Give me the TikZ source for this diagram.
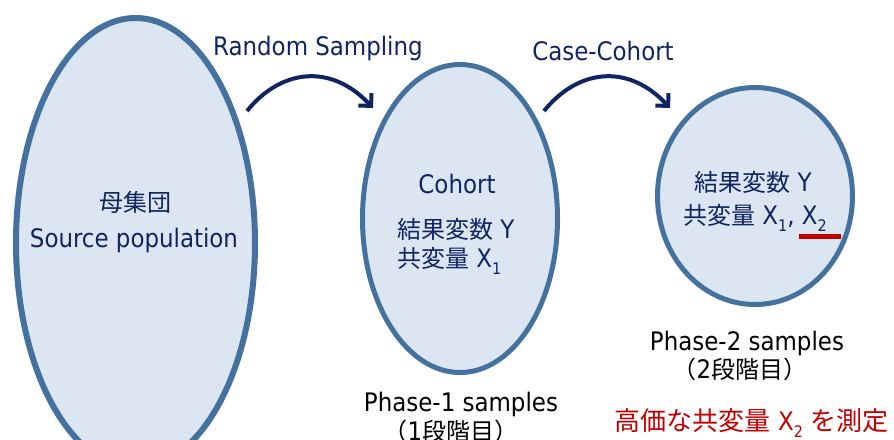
\documentclass[tikz,border=0pt]{standalone}
\usepackage{fontspec}
\setmainfont{DejaVu Sans Condensed}
\newfontfamily\cjk{Noto Sans CJK JP}
\usetikzlibrary{shapes.geometric,arrows.meta}
\definecolor{fillblue}{HTML}{DCE6F2}
\definecolor{edgeblue}{HTML}{44719E}
\definecolor{navy}{HTML}{0F2461}
\definecolor{redtxt}{HTML}{C00000}
\newcommand\lowsub[1]{\raisebox{-0.28em}{\fontsize{16}{16}\selectfont #1}}
\tikzset{
  blob/.style={ellipse, draw=edgeblue, fill=fillblue, line width=5pt, inner sep=0pt},
  lbl/.style={text=navy, font=\fontsize{25.5}{30}\selectfont, inner sep=0pt, anchor=base},
  captext/.style={text=black, font=\fontsize{25.5}{30}\selectfont, inner sep=0pt, anchor=base},
  flow/.style={draw=navy, line width=4pt, -{Straight Barb[length=9pt,width=18pt]}}
}
\begin{document}
\begin{tikzpicture}[x=1pt,y=-1pt]
\useasboundingbox (0,0) rectangle (894,439);
\clip (0,0) rectangle (894,439);
% ellipses
\node[blob, line width=6pt, minimum width=239pt, minimum height=450pt] (src) at (135.5,243) {};
\node[blob, minimum width=195pt, minimum height=308pt] (coh) at (460,218.5) {};
\node[blob, minimum width=195pt, minimum height=217pt] (ph2) at (755,196) {};
% texts in source
\node[lbl] (srcjp) at (135,211.5) {\cjk\fontsize{24}{28}\selectfont 母集団};
\node[lbl] (srcen) at (134,247) {Source population};
% cohort
\node[lbl] (cohname) at (457,193) {Cohort};
\node[lbl, anchor=base west] (cohy) at (397,238) {{\cjk\fontsize{24}{28}\selectfont 結果変数} Y};
\node[lbl, anchor=base west] (cohx) at (397,267) {{\cjk\fontsize{24}{28}\selectfont 共変量} X\lowsub{1}};
% phase-2
\node[lbl] (p2y) at (753,191) {{\cjk\fontsize{24}{28}\selectfont 結果変数} Y};
\node[lbl] (p2x) at (755,224) {{\cjk\fontsize{24}{28}\selectfont 共変量} X\lowsub{1}, X\lowsub{2}};
\draw[redtxt, line width=5pt] (799,236) -- (841,236);
% captions
\node[captext] (p1a) at (461,411.7) {Phase-1 samples};
\node[captext] (p1b) at (451,440) {{\cjk\fontsize{24}{28}\selectfont （}1{\cjk\fontsize{24}{28}\selectfont 段階目）}};
\node[captext] (p2a) at (747,350) {Phase-2 samples};
\node[captext] (p2b) at (740,378) {{\cjk\fontsize{24}{28}\selectfont （}2{\cjk\fontsize{24}{28}\selectfont 段階目）}};
\node[captext, text=redtxt] (note) at (751.5,430) {{\cjk\fontsize{26}{30}\selectfont 高価な共変量} X\lowsub{2} {\cjk\fontsize{26}{30}\selectfont を測定}};
% arrow labels
\node[lbl] (rs) at (318,55) {Random Sampling};
\node[lbl] (cc) at (603,60) {Case-Cohort};
% arrows
\coordinate (a1s) at (247,111);
\coordinate (a1e) at (373,108);
\coordinate (a2s) at (544,111);
\coordinate (a2e) at (670,108);
\draw[flow] (a1s) .. controls (280,70) and (330,62) .. (a1e);
\draw[flow] (a2s) .. controls (577,70) and (627,62) .. (a2e);
\end{tikzpicture}
\end{document}
